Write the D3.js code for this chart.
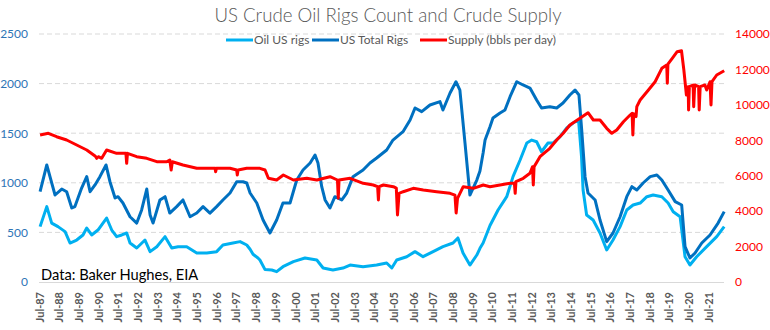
<!DOCTYPE html>
<html>
<head>
<meta charset="utf-8">
<script src="https://cdn.jsdelivr.net/npm/d3@7"></script>
<style>
  html, body { margin: 0; padding: 0; background: #fff; }
  svg { display: block; }
  text { font-family: Lato, "Open Sans", sans-serif; }
</style>
</head>
<body>
<svg id="chart" width="770" height="330"></svg>
<script>
// ---------- DATA ----------
const title = "US Crude Oil Rigs Count and Crude Supply";
const seriesNames = ["Oil US rigs", "US Total Rigs", "Supply (bbls per day)"];
const sourceNote = "Data: Baker Hughes, EIA";

const xTickLabels = ["Jul-87","Jul-88","Jul-89","Jul-90","Jul-91","Jul-92","Jul-93","Jul-94","Jul-95","Jul-96",
  "Jul-97","Jul-98","Jul-99","Jul-00","Jul-01","Jul-02","Jul-03","Jul-04","Jul-05","Jul-06","Jul-07","Jul-08",
  "Jul-09","Jul-10","Jul-11","Jul-12","Jul-13","Jul-14","Jul-15","Jul-16","Jul-17","Jul-18","Jul-19","Jul-20","Jul-21"];
const xTickYears = xTickLabels.map((d, i) => 1987.5 + i);
const leftTicks = [0, 500, 1000, 1500, 2000, 2500];
const rightTicks = [0, 2000, 4000, 6000, 8000, 10000, 12000, 14000];

// [decimal year, rigs]
const oilRigs = [
  [1987.54,558],[1987.88,760],[1988.13,594],[1988.45,558],[1988.81,508],[1989.06,393],[1989.40,423],
  [1989.72,474],[1989.91,544],[1990.16,474],[1990.48,524],[1990.92,645],[1991.18,524],[1991.43,457],
  [1991.69,474],[1991.94,494],[1992.11,393],[1992.45,343],[1992.87,423],[1993.13,306],[1993.47,356],
  [1993.89,457],[1994.23,343],[1994.55,356],[1994.99,356],[1995.50,292],[1996.01,292],[1996.51,306],
  [1996.83,373],[1997.34,393],[1997.70,407],[1998.04,373],[1998.21,330],[1998.36,280],[1998.61,242],
  [1998.71,222],[1998.97,125],[1999.31,121],[1999.56,104],[1999.88,154],[2000.41,205],[2001.00,242],
  [2001.60,222],[2001.92,141],[2002.42,121],[2002.93,141],[2003.29,171],[2003.95,154],[2004.64,171],
  [2005.15,192],[2005.41,141],[2005.66,222],[2006.17,255],[2006.59,306],[2007.00,255],[2007.51,306],
  [2008.01,356],[2008.52,393],[2008.77,444],[2009.03,292],[2009.38,171],[2009.73,272],[2009.89,340],
  [2010.05,393],[2010.40,570],[2010.81,726],[2011.25,860],[2011.57,1062],[2011.93,1230],[2012.27,1401],
  [2012.52,1431],[2012.77,1414],[2013.02,1313],[2013.34,1401],[2013.60,1401],[2013.96,1465],[2014.30,1552],
  [2014.62,1603],[2014.90,1633],[2015.05,1263],[2015.13,927],[2015.31,675],[2015.64,625],[2015.99,494],
  [2016.33,323],[2016.65,423],[2017.01,558],[2017.35,726],[2017.67,776],[2018.03,796],[2018.37,860],
  [2018.69,877],[2019.13,860],[2019.45,796],[2019.71,709],[2020.06,658],[2020.31,255],[2020.56,171],
  [2020.90,255],[2021.41,356],[2021.92,457],[2022.30,558]
];

const totalRigs = [
  [1987.54,910],[1987.88,1180],[1988.13,1000],[1988.30,877],[1988.64,937],[1988.89,910],[1989.15,746],
  [1989.31,760],[1989.65,947],[1989.91,1062],[1990.08,910],[1990.33,978],[1990.58,1062],[1990.89,1180],
  [1991.09,1011],[1991.35,847],[1991.50,860],[1991.75,796],[1992.11,658],[1992.45,594],[1992.70,726],
  [1992.96,937],[1993.13,675],[1993.28,594],[1993.63,827],[1993.89,860],[1994.13,695],[1994.48,760],
  [1994.80,827],[1995.16,658],[1995.50,695],[1995.82,760],[1996.17,695],[1996.51,760],[1996.83,827],
  [1997.19,897],[1997.53,1011],[1997.85,1011],[1998.04,998],[1998.21,897],[1998.55,796],[1998.87,625],
  [1999.22,494],[1999.56,625],[1999.88,796],[2000.24,796],[2000.58,1028],[2000.90,1129],[2001.26,1200],
  [2001.51,1280],[2001.66,1200],[2001.85,961],[2002.02,827],[2002.27,746],[2002.52,860],[2002.87,827],
  [2003.12,897],[2003.44,1062],[2003.95,1129],[2004.30,1200],[2004.64,1250],[2005.15,1331],[2005.47,1431],
  [2005.98,1515],[2006.34,1633],[2006.59,1754],[2006.93,1717],[2007.35,1784],[2007.86,1818],[2008.01,1734],
  [2008.37,1905],[2008.67,2019],[2008.87,1935],[2009.13,1401],[2009.38,877],[2009.73,1028],[2009.89,1120],
  [2010.05,1300],[2010.15,1431],[2010.40,1566],[2010.55,1653],[2010.91,1704],[2011.16,1734],[2011.42,1868],
  [2011.76,2019],[2012.08,1986],[2012.43,1955],[2012.77,1834],[2013.02,1754],[2013.44,1767],[2013.79,1754],
  [2014.11,1804],[2014.46,1885],[2014.72,1935],[2014.92,1885],[2015.06,1532],[2015.23,1062],[2015.38,897],
  [2015.74,827],[2015.99,625],[2016.33,407],[2016.65,494],[2017.01,658],[2017.35,860],[2017.61,961],
  [2017.86,927],[2018.18,998],[2018.54,1062],[2018.88,1079],[2019.13,1028],[2019.45,927],[2019.81,810],
  [2020.14,776],[2020.31,356],[2020.56,242],[2020.82,292],[2021.16,393],[2021.58,474],[2021.99,594],
  [2022.30,709]
];

// [decimal year, thousand bbl per day]
const supply = [
  [1987.54,8298],[1987.96,8394],[1988.38,8202],[1988.89,8016],[1989.40,7734],[1989.91,7451],[1990.35,7100],
  [1990.42,6983],[1990.50,7073],[1990.67,6983],[1990.92,7451],[1991.43,7265],[1991.90,7265],[1991.94,6700],
  [1991.98,7265],[1992.45,7073],[1992.96,6983],[1993.47,6791],[1993.97,6791],[1994.13,6887],[1994.20,6322],
  [1994.26,6791],[1994.80,6605],[1995.50,6418],[1996.01,6418],[1996.43,6418],[1996.46,6227],[1996.50,6418],
  [1997.19,6418],[1997.53,6322],[1997.56,6040],[1997.60,6322],[1998.04,6418],[1998.71,6418],[1998.97,6322],
  [1999.14,5854],[1999.56,5758],[1999.90,6040],[2000.41,5758],[2001.09,5854],[2001.60,5758],[2002.27,5944],
  [2002.65,5758],[2002.69,4725],[2002.73,5758],[2003.29,5854],[2003.96,5572],[2004.47,5476],[2004.69,5380],
  [2004.73,4629],[2004.77,5380],[2004.98,5476],[2005.49,5380],[2005.64,5300],[2005.70,3782],[2005.78,5007],
  [2005.99,5097],[2006.50,5289],[2007.01,5193],[2007.69,5097],[2008.37,5007],[2008.62,4900],[2008.68,3895],
  [2008.75,4725],[2009.04,5380],[2009.55,5289],[2010.06,5476],[2010.40,5380],[2010.91,5476],[2011.42,5572],
  [2011.64,5572],[2011.68,5007],[2011.72,5662],[2012.09,5854],[2012.43,6136],[2012.56,6508],[2012.60,5476],
  [2012.64,6508],[2012.94,7073],[2013.44,7547],[2013.79,8016],[2014.12,8394],[2014.46,8863],[2014.97,9241],
  [2015.38,9557],[2015.65,9145],[2015.99,9145],[2016.33,8676],[2016.59,8394],[2016.84,8580],[2017.18,9049],
  [2017.52,9427],[2017.62,9524],[2017.66,8298],[2017.70,9500],[2017.82,9332],[2017.86,9896],[2018.03,10274],
  [2018.45,10838],[2018.79,11307],[2019.13,12063],[2019.38,12250],[2019.41,11217],[2019.44,12300],
  [2019.66,12628],[2019.91,13001],[2020.13,13057],[2020.25,11967],[2020.38,10556],[2020.47,11026],
  [2020.49,9710],[2020.53,11026],[2020.72,11121],[2020.75,9896],[2020.80,11121],[2021.00,11026],
  [2021.03,9710],[2021.08,11026],[2021.32,11121],[2021.41,10838],[2021.58,11307],[2021.63,9990],
  [2021.68,11307],[2021.92,11685],[2022.30,11928]
];

// ---------- CHART ----------
const svg = d3.select("#chart");
const W = 770, H = 330;
const plot = { left: 39, right: 724, top: 34, bottom: 282 };

const x = d3.scaleLinear().domain([1987.5, 2022.3]).range([39.3, 724.2]);
const yL = d3.scaleLinear().domain([0, 2500]).range([plot.bottom, plot.top]);
const yR = d3.scaleLinear().domain([0, 14000]).range([plot.bottom, plot.top]);

const gray = "#595959";
const colOil = "#00B0F0", colTotal = "#0070C0", colSupply = "#FF0000";

// Title
svg.append("text")
  .attr("x", 388).attr("y", 22)
  .attr("text-anchor", "middle")
  .attr("fill", gray)
  .style("font-size", "18.7px")
  .style("font-weight", 300)
  .text(title);

// Gridlines
svg.append("g").selectAll("line")
  .data(leftTicks.filter(d => d > 0))
  .join("line")
  .attr("x1", plot.left).attr("x2", plot.right)
  .attr("y1", d => yL(d)).attr("y2", d => yL(d))
  .attr("stroke", "#D9D9D9").attr("stroke-width", 1)
  .attr("stroke-dasharray", "5,3");

// Baseline
svg.append("line")
  .attr("x1", plot.left).attr("x2", plot.right)
  .attr("y1", plot.bottom + 0.5).attr("y2", plot.bottom + 0.5)
  .attr("stroke", "#D9D9D9").attr("stroke-width", 1);

// Left axis labels
const leftAxis = d3.axisLeft(yL).tickValues(leftTicks).tickSize(0).tickPadding(0).tickFormat(d3.format("d"));
const gL = svg.append("g").attr("transform", "translate(28,0)").call(leftAxis);
gL.select(".domain").remove();
gL.selectAll("text").attr("fill", "#2E75B6").style("font-size", "12px").style("font-family", "Lato, sans-serif");

// Right axis labels
const rightAxis = d3.axisRight(yR).tickValues(rightTicks).tickSize(0).tickPadding(0).tickFormat(d3.format("d"));
const gR = svg.append("g").attr("transform", "translate(735,0)").call(rightAxis);
gR.select(".domain").remove();
gR.selectAll("text").attr("fill", "#FF0000").style("font-size", "12px").style("font-family", "Lato, sans-serif");

// X axis labels (rotated)
const xAxis = d3.axisBottom(x).tickValues(xTickYears).tickSize(0).tickPadding(0)
  .tickFormat((d, i) => xTickLabels[i]);
const gX = svg.append("g").attr("transform", `translate(0,${plot.bottom})`).call(xAxis);
gX.select(".domain").remove();
gX.selectAll("text")
  .attr("transform", "rotate(-90)")
  .attr("text-anchor", "end")
  .attr("x", -10).attr("y", 0).attr("dy", "0.35em")
  .attr("fill", gray)
  .style("font-size", "11px").style("font-weight", "bold")
  .style("font-family", "Lato, sans-serif");

// Lines
const lineL = d3.line().x(d => x(d[0])).y(d => yL(d[1])).curve(d3.curveLinear);
const lineR = d3.line().x(d => x(d[0])).y(d => yR(d[1])).curve(d3.curveLinear);

svg.append("path").datum(oilRigs).attr("d", lineL)
  .attr("fill", "none").attr("stroke", colOil).attr("stroke-width", 3).attr("stroke-linejoin", "round");
svg.append("path").datum(totalRigs).attr("d", lineL)
  .attr("fill", "none").attr("stroke", colTotal).attr("stroke-width", 3).attr("stroke-linejoin", "round");
svg.append("path").datum(supply).attr("d", lineR)
  .attr("fill", "none").attr("stroke", colSupply).attr("stroke-width", 3).attr("stroke-linejoin", "round");

// Legend
const legendItems = [
  { name: seriesNames[0], color: colOil, x: 226 },
  { name: seriesNames[1], color: colTotal, x: 312 },
  { name: seriesNames[2], color: colSupply, x: 420 }
];
const lg = svg.append("g").selectAll("g").data(legendItems).join("g")
  .attr("transform", d => `translate(${d.x},40)`);
lg.append("line").attr("x1", 0).attr("x2", 27).attr("y1", 0).attr("y2", 0)
  .attr("stroke", d => d.color).attr("stroke-width", 3);
lg.append("text").attr("x", 28).attr("y", 0).attr("dy", "0.35em")
  .attr("fill", gray).style("font-size", "12px")
  .text(d => d.name);

// Source note
svg.append("text")
  .attr("x", 41).attr("y", 280)
  .attr("fill", "#000")
  .style("font-size", "14.7px")
  .text(sourceNote);
</script>
</body>
</html>
